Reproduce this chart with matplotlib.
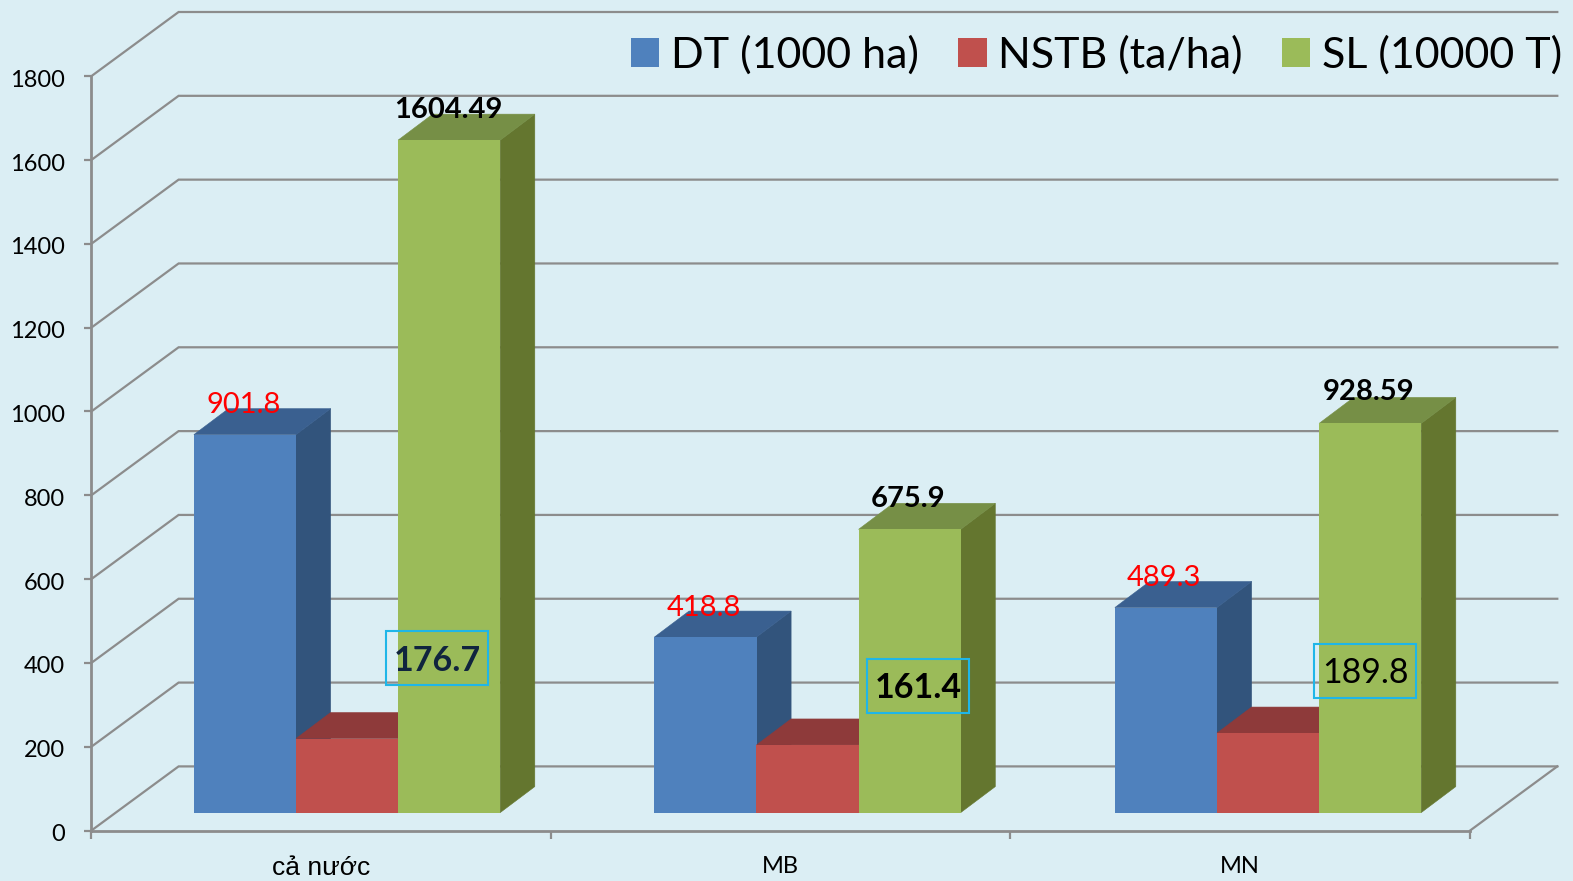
import matplotlib
matplotlib.use("Agg")
import matplotlib.pyplot as plt
from matplotlib.patches import Rectangle, Patch
from matplotlib.transforms import ScaledTranslation

plt.rcParams['font.family'] = ['Lato', 'Noto Sans', 'DejaVu Sans']

categories = ['cả nước', 'MB', 'MN']
series_names = ['DT (1000 ha)', 'NSTB (ta/ha)', 'SL (10000 T)']
dt_values = [901.8, 418.8, 489.3]
nstb_values = [176.7, 161.4, 189.8]
sl_values = [1604.49, 675.9, 928.59]
y_ticks = list(range(0, 2000, 200))

# styles
W, H = 1573, 881
BG = '#DBEEF4'
GRID = '#8C8C8C'
front = ['#4F81BD', '#C0504D', '#9BBB59']
side = ['#32547C', '#7E3331', '#64762F']
top = ['#3A6090', '#8E3A3A', '#768F46']

fig = plt.figure(figsize=(W / 100, H / 100), dpi=100, facecolor=BG)
ax_l, ax_r, ax_b, ax_t = 91.3, 1470.0, 830.6, 76.2
ax = fig.add_axes([ax_l / W, 1 - ax_b / H, (ax_r - ax_l) / W, (ax_b - ax_t) / H], facecolor='none')
ax.set_xlim(0, 3)
ax.set_ylim(0, 1800)

px_x = 3 / (ax_r - ax_l)          # category units per pixel
px_y = 1800 / (ax_b - ax_t)       # value units per pixel

wall_dx, wall_dy = 87.3 * px_x, 64.2 * px_y
depth_dx, depth_dy = 34.6 * px_x, 26.0 * px_y
floor_dy = 18.0 * px_y
bar_w = 102.1 * px_x
group_off = 102.6 * px_x
group_pitch = 460.5 * px_x

# walls
for t in y_ticks:
    ax.plot([0, wall_dx, 3 + wall_dx], [t, t + wall_dy, t + wall_dy],
            color=GRID, lw=1.6, clip_on=False, zorder=1, solid_joinstyle='miter')
ax.plot([3, 3 + wall_dx], [0, wall_dy], color=GRID, lw=1.6, clip_on=False, zorder=1)

# bars
z = 3
for g in range(len(categories)):
    for s, vals in enumerate([dt_values, nstb_values, sl_values]):
        v = vals[g]
        x0 = g * group_pitch + group_off + s * bar_w
        x1 = x0 + bar_w
        y0 = floor_dy
        y1 = floor_dy + v
        ax.fill([x1, x1 + depth_dx, x1 + depth_dx, x1],
                [y0, y0 + depth_dy, y1 + depth_dy, y1],
                fc=side[s], ec=side[s], lw=0.4, clip_on=False, zorder=z)
        ax.fill([x0, x0 + depth_dx, x1 + depth_dx, x1],
                [y1, y1 + depth_dy, y1 + depth_dy, y1],
                fc=top[s], ec=top[s], lw=0.4, clip_on=False, zorder=z)
        ax.bar(x0, v, width=bar_w, bottom=floor_dy, align='edge', color=front[s],
               lw=0, clip_on=False, zorder=z)
        z += 1

# axes
for sp in ['top', 'right']:
    ax.spines[sp].set_visible(False)
for sp in ['left', 'bottom']:
    ax.spines[sp].set_color(GRID)
    ax.spines[sp].set_linewidth(2.0)
    ax.spines[sp].set_zorder(2)
ax.set_yticks(y_ticks)
ax.set_xticks(range(len(categories) + 1))
ax.set_xticklabels([])
ax.set_xticks([g + 0.5 for g in range(len(categories))], minor=True)
ax.set_xticklabels(categories, minor=True, fontsize=17, color='black')
ax.tick_params(axis='x', which='major', length=6, width=1.6, color=GRID)
ax.tick_params(axis='x', which='minor', length=0, pad=18.5)
ax.tick_params(axis='y', length=5, width=1.6, color=GRID, labelsize=17, labelcolor='black', pad=14)
first_cat = ax.get_xticklabels(minor=True)[0]
first_cat.set_fontfamily(['Liberation Sans', 'DejaVu Sans'])
first_cat.set_fontsize(19)
for lab in ax.get_yticklabels():
    lab.set_transform(lab.get_transform() + ScaledTranslation(0, -2 / 100, fig.dpi_scale_trans))

# value labels
tr = fig.transFigure
def place(txt, cx, cy, size, color, weight='normal', zo=60):
    fig.text(cx / W, 1 - cy / H, txt, ha='center', va='center', fontsize=size,
             color=color, fontweight=weight, zorder=zo)

dt_label_pos = [(244, 405), (704, 608), (1164, 578)]
sl_label_pos = [(448, 110), (908, 499), (1369, 392)]
nstb_label_pos = [(437.5, 661), (918.5, 688), (1365, 673)]
nstb_box = [(386, 630.5), (867, 658.5), (1314, 643.5)]
nstb_colors = ['#10243E', 'black', 'black']
nstb_weights = ['bold', 'bold', 'normal']

for g in range(len(categories)):
    place(str(dt_values[g]), *dt_label_pos[g], 21, '#FF0000')
    place(str(sl_values[g]), *sl_label_pos[g], 21, 'black', 'bold')
    place(str(nstb_values[g]), *nstb_label_pos[g], 24.5, nstb_colors[g], nstb_weights[g])
    bx, by = nstb_box[g]
    fig.add_artist(Rectangle((bx / W, 1 - (by + 54) / H), 102 / W, 54 / H, transform=tr,
                             fill=False, ec='#1FB6E8', lw=1.5, zorder=55))

handles = [Patch(color=c, lw=0) for c in front]
leg = fig.legend(handles, series_names, loc='upper right', bbox_to_anchor=(1562 / W, 1 - 35 / H),
                 bbox_transform=fig.transFigure, ncol=3, frameon=False, fontsize=31,
                 handlelength=0.66, handleheight=0.66, handletextpad=0.27,
                 columnspacing=0.91, borderpad=0, borderaxespad=0)
leg.set_zorder(70)

fig.savefig('out.png', dpi=100, facecolor=BG)
